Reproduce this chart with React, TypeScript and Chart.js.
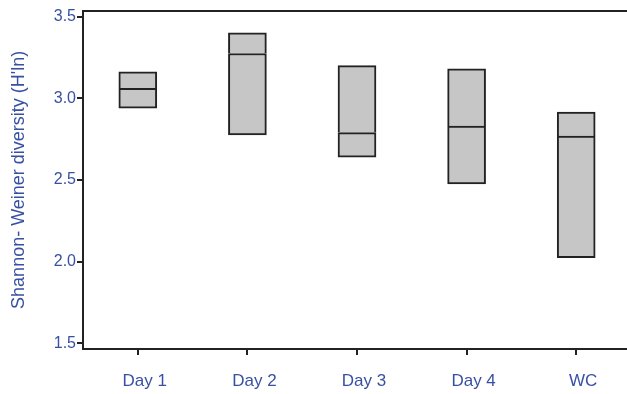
import React, { useEffect, useRef } from "react";
import { Chart, registerables } from "chart.js";

Chart.register(...registerables);

const categories = ["Day 1", "Day 2", "Day 3", "Day 4", "WC"];
const boxBottom = [2.939, 2.775, 2.64, 2.476, 2.024];
const boxMedian = [3.061, 3.274, 2.79, 2.83, 2.768];
const boxTop = [3.162, 3.4, 3.2, 3.18, 2.915];
const yTicks = [1.5, 2.0, 2.5, 3.0, 3.5];
const yTitle = "Shannon- Weiner diversity (H'ln)";

const BLUE = "#3850a3";
const DARK = "#222222";
const FILL = "#c6c6c7";
const FONT = "'Liberation Sans', Arial, sans-serif";

export default function App() {
  const ref = useRef<HTMLCanvasElement>(null);
  useEffect(() => {
    if (!ref.current) return;
    const lower = categories.map((_, i) => [boxBottom[i], boxMedian[i]]);
    const upper = categories.map((_, i) => [boxMedian[i], boxTop[i]]);
    const chart = new Chart(ref.current, {
      type: "bar",
      data: {
        labels: categories,
        datasets: [
          {
            data: lower as any,
            backgroundColor: FILL,
            borderColor: DARK,
            borderWidth: { top: 2, bottom: 2, left: 2, right: 2 } as any,
            borderSkipped: false,
            barThickness: 38,
            grouped: false,
          } as any,
          {
            data: upper as any,
            backgroundColor: FILL,
            borderColor: DARK,
            borderWidth: { top: 2, bottom: 0, left: 2, right: 2 } as any,
            borderSkipped: false,
            barThickness: 38,
            grouped: false,
          } as any,
        ],
      },
      options: {
        responsive: false,
        animation: false,
        devicePixelRatio: 1,
        layout: { padding: { left: 0, right: 0, top: 8, bottom: 0 } },
        plugins: { legend: { display: false }, tooltip: { enabled: false } },
        scales: {
          x: {
            type: "category",
            position: "bottom",
            offset: true,
            grid: {
              display: true,
              drawOnChartArea: false,
              offset: false,
              tickLength: 6,
              color: DARK,
              lineWidth: 2,
            },
            border: { display: true, color: DARK, width: 2 },
            ticks: {
              color: BLUE,
              padding: 16,
              labelOffset: 7,
              font: { family: FONT, size: 17 },
            },
            afterFit: (s: any) => {
              s.height = 45;
            },
          },
          xTop: {
            type: "category",
            position: "top",
            offset: true,
            grid: { display: false },
            border: { display: true, color: DARK, width: 2 },
            ticks: { display: false },
            afterFit: (s: any) => {
              s.height = 0;
            },
          },
          y: {
            type: "linear",
            min: 1.4654,
            max: 3.5364,
            afterBuildTicks: (s: any) => {
              s.ticks = yTicks.map((v) => ({ value: v }));
            },
            grid: {
              display: true,
              drawOnChartArea: false,
              tickLength: 6,
              color: DARK,
              lineWidth: 2,
            },
            border: { display: true, color: DARK, width: 2 },
            ticks: {
              color: BLUE,
              padding: 1,
              font: { family: FONT, size: 16 },
              callback: (v: any) => Number(v).toFixed(1),
            },
            title: {
              display: true,
              text: yTitle,
              color: BLUE,
              padding: { top: 8, bottom: 0 },
              font: { family: FONT, size: 18 },
            },
            afterFit: (s: any) => {
              s.width = 83;
            },
          },
        },
      },
    });
    return () => chart.destroy();
  }, []);
  return (
    <div
      style={{
        position: "fixed",
        left: 0,
        top: 0,
        width: 627,
        height: 394,
        overflow: "hidden",
        background: "#fff",
      }}
    >
      <canvas ref={ref} width={631} height={394} style={{ display: "block" }} />
    </div>
  );
}
